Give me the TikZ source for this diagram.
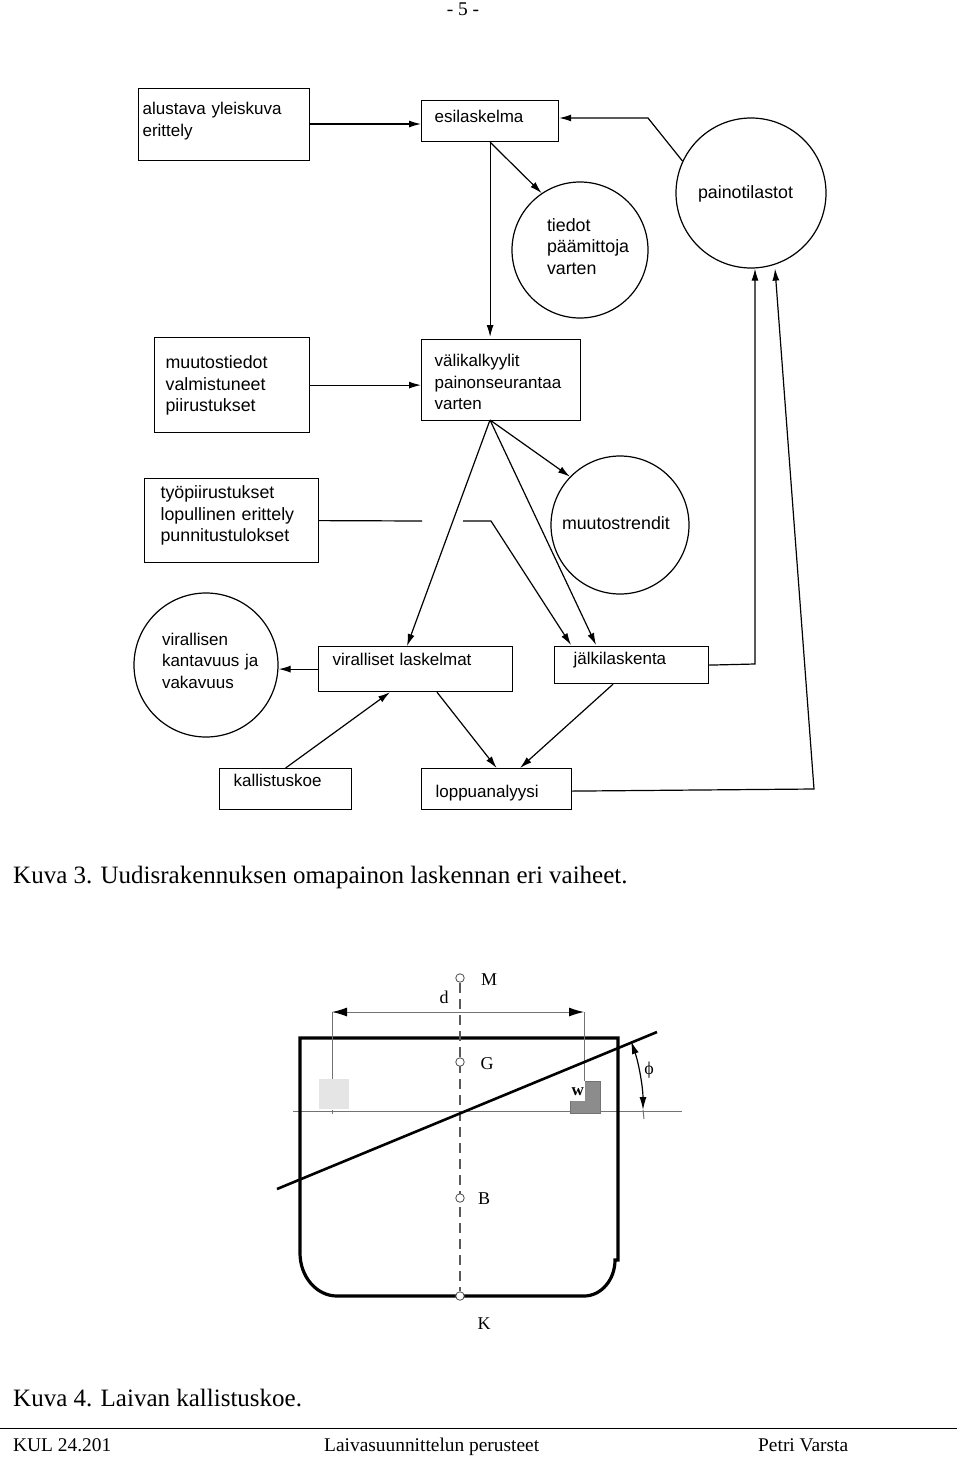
\documentclass[tikz,border=0pt]{standalone}
\usepackage{fontspec}
\setmainfont{Liberation Serif}
\setsansfont{Liberation Sans}
\usetikzlibrary{positioning}
\usetikzlibrary{calc}
\usetikzlibrary{arrows.meta}
\hyphenpenalty=10000
\tikzstyle{flow}=[-{Latex[length=12pt,width=7pt]}, line width=1.2pt]
\tikzstyle{plain}=[line width=1.2pt]
\tikzstyle{thinline}=[line width=1pt, color=black!55]
\tikzstyle{hull}=[line width=3.2pt]
\tikzstyle{mark point}=[circle,draw=black!70,fill=white,minimum size=8.5pt,inner sep=0pt,line width=0.8pt]
\tikzstyle{serif label}=[font=\fontsize{18}{20}\selectfont, inner sep=0pt]
\tikzstyle{caption}=[font=\fontsize{25}{28}\selectfont, anchor=base west, inner sep=0pt]
\tikzstyle{footer}=[font=\fontsize{19.4}{22}\selectfont, anchor=base west, inner sep=0pt]
\tikzstyle{wide text}=[font=\sffamily\fontsize{17.8}{21.5}\selectfont]
\tikzset{
  flowbox/.style args={#1/#2/#3/#4}{draw, line width=1.2pt, anchor=north west, align=left,
    font=\sffamily\fontsize{17}{21.5}\selectfont, inner ysep=0pt, inner xsep=#2pt,
    text width=#1pt-2*#2pt, text height=#4pt, text depth=#3pt-#4pt},
  flowcircle/.style args={#1/#2/#3/#4}{draw, circle, line width=1.2pt, align=left,
    font=\sffamily\fontsize{17}{21.5}\selectfont, inner sep=0pt, minimum size=#1pt,
    text width=#2pt, text height=#3pt, text depth=#4pt}
}
\begin{document}
\begin{tikzpicture}[x=1pt,y=-1pt]
  \useasboundingbox (0,0) rectangle (960,1459);

  \node[footer, anchor=base] (page) at (463,15) {- 5 -};

  \node[flowbox=171/4/72/26] (alustava) at (138,88) {alustava yleiskuva\\erittely};
  \node[flowbox=137/13/41/22] (esi) at (421,100) {esilaskelma};
  \node[flowbox=155/11/95/31, wide text] (tiedotmuutos) at (154,337) {muutostiedot\\valmistuneet\\piirustukset};
  \node[flowbox=159/13/81/27] (vali) at (421,339) {välikalkyylit\\painonseurantaa\\varten};
  \node[flowbox=174/16/84/20, wide text] (tyo) at (144,478) {työpiirustukset\\lopullinen erittely\\punnitustulokset};
  \node[flowbox=194/14/45/19] (viralliset) at (318,646) {viralliset laskelmat};
  \node[flowbox=154/19/37/18] (jalki) at (554,646) {jälkilaskenta};
  \node[flowbox=132/14/41/18] (koe) at (219,768) {kallistuskoe};
  \node[flowbox=150/14/41/29] (loppu) at (421,768) {loppuanalyysi};

  \node[flowcircle=136/66/10/48, wide text] (tiedot) at (580,250) {tiedot\\päämittoja\\varten};
  \node[flowcircle=150/106/10/0, wide text] (stat) at (751,193) {painotilastot};
  \node[flowcircle=138/116/10/2, wide text] (trend) at (620,525) {muutostrendit};
  \node[flowcircle=144/88/10/50] (vakavuus) at (206,665) {virallisen\\kantavuus~ja\\vakavuus};

  \coordinate (apex) at (490,420);
  \coordinate (bendstat) at (648,118);
  \coordinate (gapl) at (422,521);
  \coordinate (gapr) at (463,521);
  \coordinate (bendtyo) at (491,521);
  \coordinate (bendjalki) at (755,664);
  \coordinate (bendloppu) at (814,789);

  \draw[flow] (alustava.east |- 0,124) -- (esi.west |- 0,124);
  \draw[flow] (stat.155) -- (bendstat) -- (esi.east |- bendstat);
  \draw[flow] (esi.south) -- (esi.south |- 0,337);
  \draw[flow] (esi.south) -- (tiedot.124);
  \draw[flow] (tiedotmuutos.east) -- (vali.west |- tiedotmuutos.east);
  \draw[flow] (apex) -- (trend.136);
  \draw[flow] (apex) -- ($(viralliset.north west)+(89,0)$);
  \draw[flow] (apex) -- ($(jalki.north west)+(42,-1)$);
  \draw[plain] (tyo.east) -- (gapl);
  \draw[flow] (gapr) -- (bendtyo) -- ($(jalki.north west)+(17,-1)$);
  \draw[flow] (viralliset.west) -- (vakavuus.east |- viralliset.west);
  \draw[flow] (jalki.east) -- (bendjalki) -- (bendjalki |- stat.south);
  \draw[flow] (koe.north) -- ($(viralliset.south west)+(72,0)$);
  \draw[flow] ($(viralliset.south west)+(119,0)$) -- (loppu.north);
  \draw[flow] ($(jalki.south west)+(59,0)$) -- ($(loppu.north west)+(99,0)$);
  \draw[flow] ($(loppu.east)+(0,2)$) -- (bendloppu) -- (775,0 |- stat.south);

  \node[caption] (kuvakolme) at (13,883) {Kuva 3. Uudisrakennuksen omapainon laskennan eri vaiheet.};

  % ship section
  \draw[thinline] (293,1111) -- (682,1111);
  \draw[hull] (584,1296) -- (337,1296) arc (90:180:37 and 43) -- (300,1038) -- (618,1038) -- (618,1260) -- (615,1260) arc (0:90:31 and 36);
  \node[mark point] (M) at (460,978) {};
  \node[mark point] (K) at (460,1296) {};
  \draw[thinline, line width=1.2pt, color=black!65, dash pattern=on 10pt off 6pt] (M) -- (K);
  \node[mark point] (G) at (460,1062) {};
  \node[mark point] (B) at (460,1198) {};

  \node[draw=none, fill=black!10, minimum size=30pt, inner sep=0pt, anchor=north west] (lightbox) at (319,1079) {};
  \node[draw=black!55, fill=black!45, minimum width=30pt, minimum height=32pt, inner sep=0pt, anchor=north west, line width=1pt] (darkbox) at (570,1081) {};
  \node[serif label, fill=white, minimum width=15pt, minimum height=20pt, anchor=north west, font=\fontsize{17}{20}\selectfont\bfseries] (w) at (570,1081) {w};

  \coordinate (dimleft) at (332,1012);
  \coordinate (dimright) at (584,1012);
  \coordinate (tickleft) at (332,1114);
  \draw[thinline] (dimleft) -- (dimleft |- lightbox.north);
  \draw[thinline] (dimright) -- (dimright |- darkbox.north);
  \draw[thinline] (tickleft) -- (332,1110);
  \draw[thinline, {Latex[length=15pt,width=9pt,black]}-{Latex[length=15pt,width=9pt,black]}] (dimleft) -- (dimright);

  \coordinate (tiltleft) at (277,1189);
  \coordinate (tiltright) at (657,1032);
  \draw[line width=2.6pt] (tiltleft) -- (tiltright);

  \coordinate (phitop) at (631,1041);
  \coordinate (phibottom) at (643,1110);
  \draw[line width=1.2pt, {Latex[length=13pt,width=7pt]}-{Latex[length=13pt,width=7pt]}] (phitop) .. controls (639,1064) and (643,1088) .. (phibottom);
  \draw[thinline] (phibottom) -- (644,1119);

  \node[serif label] (dlabel) at (444,997) {d};
  \node[serif label] (Mlabel) at (489,980) {M};
  \node[serif label] (Glabel) at (487,1064) {G};
  \node[serif label] (Blabel) at (484,1199) {B};
  \node[serif label] (Klabel) at (484,1324) {K};
  \node[serif label] (philabel) at (649,1070) {ϕ};

  \node[caption] (kuvanelja) at (13,1406) {Kuva 4. Laivan kallistuskoe.};

  \draw[line width=0.8pt] (0,1428) -- (957,1428);
  \node[footer] (course) at (13,1451) {KUL 24.201};
  \node[footer] (title) at (324,1451) {Laivasuunnittelun perusteet};
  \node[footer] (author) at (758,1451) {Petri Varsta};
\end{tikzpicture}
\end{document}
